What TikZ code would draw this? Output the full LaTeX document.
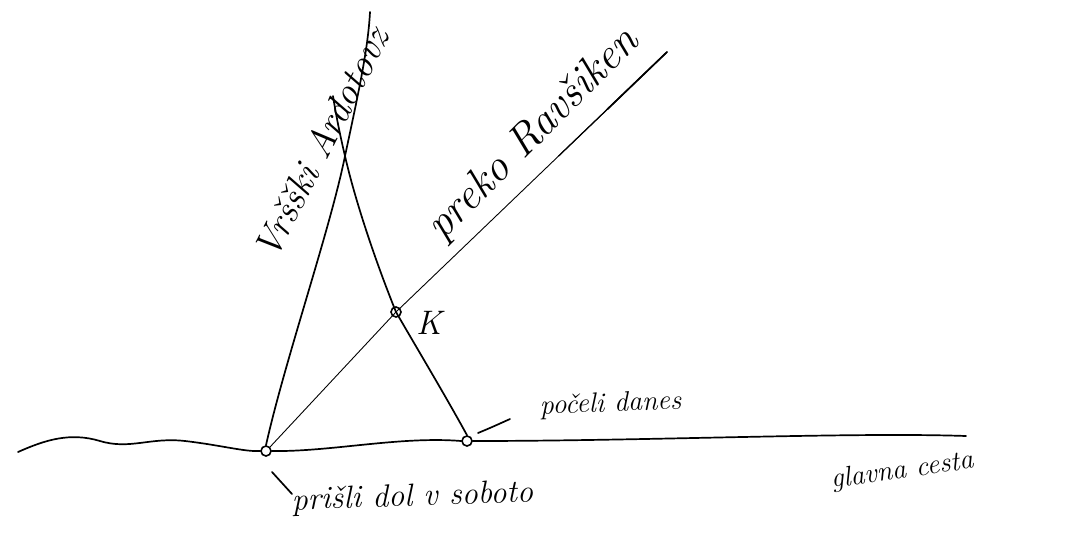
\documentclass[tikz,border=0pt]{standalone}
\usetikzlibrary{calc}
\begin{document}
\begin{tikzpicture}[x=1pt,y=-1pt,
  ink/.style={line width=1.7pt, line cap=round, line join=round},
  thin/.style={line width=0.9pt, line cap=round},
  dot/.style={circle, draw, line width=1.6pt, inner sep=0pt, minimum size=10pt},
  hand/.style={font=\itshape, inner sep=0pt}]
\useasboundingbox (0,0) rectangle (1067,552);
% points
\node[dot] (A) at (266,451) {};
\node[dot] (B) at (467,441) {};
\node[dot] (K) at (396,312) {};
\coordinate (roadL) at (18,452);
\coordinate (roadR) at (966,436);
\coordinate (X) at (345,156);
\coordinate (leftTop) at (370,12);
\coordinate (crossTop) at (333,96);
\coordinate (prekoEnd) at (667,52);
% main road
\draw[ink] (roadL) .. controls (45,440) and (70,432) .. (100,441)
  .. controls (130,450) and (150,437) .. (185,441)
  .. controls (220,445) and (245,452) .. (A.west);
\draw[ink] (A.east) .. controls (330,452) and (400,436) .. (B.west);
\draw[ink] (B.east) .. controls (650,441) and (850,432) .. (roadR);
% left line
\draw[ink] (A.north) .. controls (285,360) and (330,230) .. (X)
  .. controls (358,95) and (368,50) .. (leftTop);
% line from B through K
\draw[ink] (B.north) .. controls (445,395) and (415,345) .. (K.center)
  .. controls (375,260) and (355,200) .. (X) .. controls (340,135) and (336,115) .. (crossTop);
% line preko
\draw[thin] (A.north east) -- (K.center) -- (prekoEnd);
\draw[line width=1.2pt, line cap=round] ($(K.center)!0.6!(prekoEnd)$) -- (prekoEnd);
\draw[ink] ($(K.center)!0.78!(prekoEnd)$) -- (prekoEnd);
% leaders
\coordinate (pl1) at (478,433);
\coordinate (pl2) at (510,419);
\draw[ink] (pl1) .. controls (490,428) .. (pl2);
\coordinate (sl1) at (272,472);
\coordinate (sl2) at (292,494);
\draw[ink] (sl1) -- (sl2);
% labels
\node[hand, font=\fontsize{38}{40}\selectfont\itshape, rotate=63, anchor=base west] (vr) at (275,262) {Vršški Ardotovz};
\node[hand, font=\fontsize{44}{46}\selectfont\itshape, rotate=45, anchor=base west] (pr) at (442,242) {preko Ravšiken};
\node[hand, font=\fontsize{34}{36}\selectfont\itshape, anchor=base west] (k) at (416,334) {K};
\node[hand, font=\fontsize{28}{30}\selectfont\itshape, rotate=2, anchor=base west] (pd) at (540,414) {počeli danes};
\node[hand, font=\fontsize{32}{34}\selectfont\itshape, rotate=2, anchor=base west] (ps) at (292,510) {prišli dol v soboto};
\node[hand, font=\fontsize{28}{30}\selectfont\itshape, rotate=8, anchor=base west] (gc) at (832,488) {glavna cesta};
\end{tikzpicture}
\end{document}
